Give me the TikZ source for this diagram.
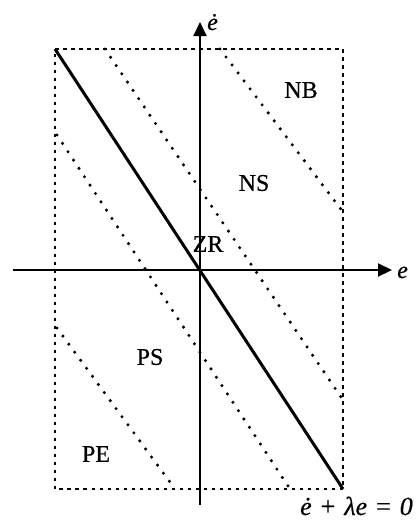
\documentclass[tikz,border=0pt]{standalone}
\usepackage{fontspec}
\setmainfont{Liberation Serif}
\newfontfamily\lblfont[FakeBold=0.6]{Liberation Serif}
\usetikzlibrary{arrows.meta}
\begin{document}
\begin{tikzpicture}[x=1pt,y=-1pt,
  axis/.style={line width=2.2pt,-{Triangle[length=14pt,width=13pt]}},
  boxline/.style={line width=2pt,dash pattern=on 3.5pt off 4.5pt},
  dotline/.style={line width=3.4pt,line cap=round,dash pattern=on 0pt off 10pt},
  mainline/.style={line width=3pt},
  lbl/.style={font=\lblfont\fontsize{24}{26}\selectfont,inner sep=0pt},
  eq/.style={font=\lblfont\fontsize{26}{28}\selectfont,inner sep=0pt}]
\useasboundingbox (0,0) rectangle (416,520);
% box
\coordinate (TL) at (55,49);
\coordinate (TR) at (343,49);
\coordinate (BR) at (343,489);
\coordinate (BL) at (55,489);
\draw[boxline] (TL) -- (TR) -- (BR) -- (BL) -- cycle;
% dotted boundaries
\coordinate (a1) at (105,49);  \coordinate (a2) at (343,400);
\coordinate (b1) at (220,49);  \coordinate (b2) at (343,212);
\coordinate (c1) at (57,135);  \coordinate (c2) at (290,489);
\coordinate (d1) at (57,328);  \coordinate (d2) at (175,489);
\draw[dotline] (a1) -- (a2);
\draw[dotline] (b1) -- (b2);
\draw[dotline] (c1) -- (c2);
\draw[dotline] (d1) -- (d2);
% axes
\coordinate (ya) at (200,505);
\coordinate (yb) at (200,22);
\coordinate (xa) at (13,270);
\coordinate (xb) at (392,270);
\draw[axis] (ya) -- (yb);
\draw[axis] (xa) -- (xb);
% switching line
\draw[mainline] (TL) -- (BR);
% labels
\node[lbl] (nb) at (301,90) {NB};
\node[lbl] (ns) at (254,183) {NS};
\node[lbl] (zr) at (208,244) {ZR};
\node[lbl] (ps) at (150,357) {PS};
\node[lbl] (pe) at (96,454) {PE};
\node[lbl,anchor=base west] (ex) at (397,278) {\textit{e}};
\node[lbl,anchor=base west] (ey) at (207,30) {\textit{ė}};
\node[eq,anchor=base east] (eqn) at (413,515) {\textit{ė}\hspace{9pt}+\hspace{9pt}\textit{λe}\hspace{9pt}=\hspace{9pt}\textit{0}};
\end{tikzpicture}
\end{document}
